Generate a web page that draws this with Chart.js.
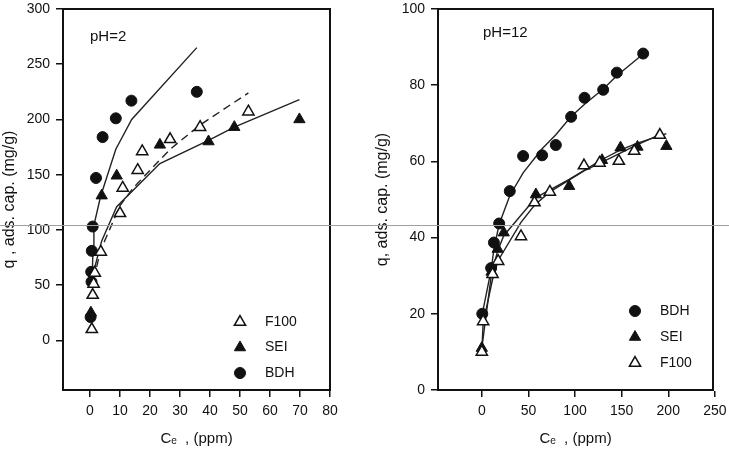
<!DOCTYPE html>
<html>
<head>
<meta charset="utf-8">
<script src="https://cdn.jsdelivr.net/npm/chart.js@4.4.0/dist/chart.umd.min.js"></script>
<style>
  html, body { margin: 0; padding: 0; background: #fff; }
  body { width: 729px; height: 460px; position: relative; overflow: hidden; }
  .panel { position: absolute; top: 0; height: 460px; }
  #left { left: 0; width: 365px; }
  #right { left: 365px; width: 364px; }
  #scanline { position: absolute; left: 0; top: 225px; width: 729px; height: 1px; background: #a0a0a0; }
</style>
</head>
<body>
<div class="panel" id="left"><canvas id="chartLeft"></canvas></div>
<div class="panel" id="right"><canvas id="chartRight"></canvas></div>
<div id="scanline"></div>
<script>
// pH = 2 measured points
const bdh2X = [0.2, 0.5, 0.4, 0.6, 0.9, 2.0, 4.2, 8.6, 13.8, 35.6];
const bdh2Y = [21, 53, 62, 81, 103, 147, 184, 201, 217, 225];
const sei2X = [0.3, 3.9, 8.9, 23.3, 39.5, 48.1, 69.8];
const sei2Y = [25, 131, 149, 177, 180, 193, 200];
const f1002X = [0.6, 0.9, 1.2, 1.6, 3.6, 10, 10.9, 15.9, 17.4, 26.7, 36.7, 52.8];
const f1002Y = [10, 41, 51, 61, 80, 115, 138, 154, 171, 182, 193, 207];

// pH = 2 fitted curves
const bdh2FitX = [0.8, 1.0, 1.3, 3.5, 8.6, 13.9, 35.6];
const bdh2FitY = [62, 84, 104, 130, 173, 200, 265];
const sei2FitX = [1.0, 3.9, 8.9, 23.3, 39.5, 48.1, 69.8];
const sei2FitY = [60, 90, 121, 160, 181, 193, 218];
const f1002FitX = [1.2, 3.6, 10, 14.4, 26.7, 36.7, 52.8];
const f1002FitY = [55, 82, 122, 138, 173, 195, 224];

// pH = 12 measured points
const bdh12X = [0.5, 10, 13, 18.6, 30, 44.3, 64.7, 79.4, 95.8, 110.2, 130.2, 144.8, 173.1];
const bdh12Y = [20, 32, 38.7, 43.7, 52.2, 61.4, 61.6, 64.3, 71.7, 76.7, 78.8, 83.3, 88.3];
const sei12X = [0, 10.4, 17, 23.5, 58, 93.7, 129, 148.8, 167, 198];
const sei12Y = [11, 31, 37, 41.3, 51.3, 53.5, 60.3, 63.6, 63.8, 64];
const f10012X = [0, 1.4, 11.5, 17.5, 42, 56.5, 73, 109.6, 126.3, 147, 163.5, 191];
const f10012Y = [10, 18, 30.4, 33.8, 40.3, 49.2, 52, 58.9, 59.6, 60.1, 62.7, 66.9];

// pH = 12 fitted curves
const bdh12FitX = [0.5, 10, 13, 18.6, 30, 44.3, 64.7, 79.4, 95.8, 110.2, 130.2, 144.8, 173.1];
const bdh12FitY = [20, 31.5, 37, 43.5, 51, 57, 63.3, 67, 71.8, 75, 79, 82.5, 88.2];
const sei12FitX = [0, 10.4, 17, 23.5, 58, 93.7, 129, 148.8, 167, 198];
const sei12FitY = [11, 30.5, 36.5, 40.5, 50.5, 55.3, 60.5, 63, 64.8, 67.3];
const f10012FitX = [0, 1.4, 11.5, 17.5, 42, 56.5, 73, 109.6, 126.3, 147, 163.5, 191];
const f10012FitY = [10, 17.5, 29, 34, 44, 48.5, 52, 57.5, 59.5, 62, 64, 67];

// tick labels
const ph2XTicks = [0, 10, 20, 30, 40, 50, 60, 70, 80];
const ph2YTicks = [0, 50, 100, 150, 200, 250, 300];
const ph12XTicks = [0, 50, 100, 150, 200, 250];
const ph12YTicks = [0, 20, 40, 60, 80, 100];

const INK = '#111';
const FONT = '"Liberation Sans", Arial, sans-serif';

function pts(xs, ys) {
  return xs.map((x, i) => ({ x: x, y: ys[i] }));
}

const markerStyles = {
  F100: { pointStyle: 'triangle', pointRadius: 6.5, backgroundColor: '#fff', borderColor: INK, borderWidth: 1.5 },
  SEI: { pointStyle: 'triangle', pointRadius: 6.5, backgroundColor: INK, borderColor: INK, borderWidth: 1 },
  BDH: { pointStyle: 'circle', pointRadius: 5.5, backgroundColor: INK, borderColor: INK, borderWidth: 1 }
};

function markers(label, xs, ys) {
  return Object.assign({ label: label, data: pts(xs, ys), showLine: false }, markerStyles[label]);
}

function fit(xs, ys, dashed) {
  return {
    label: 'fit', data: pts(xs, ys), showLine: true, pointRadius: 0,
    borderColor: '#222', borderWidth: 1.4, borderDash: dashed ? [8, 5] : [], tension: 0
  };
}

const framePlugin = {
  id: 'frame',
  beforeDatasetsDraw(chart) {
    const { ctx, chartArea: a } = chart;
    ctx.save();
    ctx.strokeStyle = INK;
    ctx.lineWidth = 2;
    ctx.strokeRect(a.left, a.top, a.right - a.left, a.bottom - a.top);
    ctx.restore();
  }
};

const notesPlugin = {
  id: 'notes',
  afterDraw(chart, args, opts) {
    const ctx = chart.ctx;
    ctx.save();
    ctx.fillStyle = INK;
    ctx.textBaseline = 'middle';
    ctx.textAlign = 'left';
    ctx.font = '15px ' + FONT;
    ctx.fillText(opts.label, opts.labelX, opts.labelY);
    ctx.font = '14px ' + FONT;
    opts.items.forEach((name, i) => {
      const st = markerStyles[name];
      const y = opts.legendY + i * opts.gap;
      ctx.fillStyle = st.backgroundColor;
      ctx.strokeStyle = st.borderColor;
      ctx.lineWidth = st.borderWidth;
      Chart.helpers.drawPoint(ctx, { pointStyle: st.pointStyle, radius: st.pointRadius, borderWidth: st.borderWidth, rotation: 0 }, opts.legendX, y);
      ctx.fillStyle = INK;
      ctx.fillText(name, opts.legendX + 25, y);
    });
    ctx.restore();
  }
};

function axes(xMin, xMax, xTicks, yMin, yMax, yTicks, yWidth, yTitle, yTitlePad) {
  const line = { drawOnChartArea: false, drawTicks: true, tickLength: 7, color: INK, lineWidth: 1.5 };
  const border = { display: true, color: INK, width: 2 };
  return {
    x: {
      type: 'linear', min: xMin, max: xMax,
      afterBuildTicks: s => { s.ticks = xTicks.map(v => ({ value: v })); },
      afterFit: s => { s.height = 58; s.paddingLeft = 0; s.paddingRight = 0; },
      grid: line, border: border,
      ticks: { color: INK, padding: 6, font: { size: 14, family: FONT } },
      title: { display: true, text: 'Cₑ  , (ppm)', color: INK, padding: 0, font: { size: 15, family: FONT } }
    },
    y: {
      type: 'linear', min: yMin, max: yMax,
      afterBuildTicks: s => { s.ticks = yTicks.map(v => ({ value: v })); },
      afterFit: s => { s.width = yWidth; s.paddingTop = 0; s.paddingBottom = 0; },
      grid: line, border: border,
      ticks: { color: INK, padding: 6, font: { size: 14, family: FONT } },
      title: { display: true, text: yTitle, color: INK, padding: { top: yTitlePad, bottom: 0 }, font: { size: 16, family: FONT } }
    }
  };
}

new Chart(document.getElementById('chartLeft'), {
  type: 'scatter',
  data: {
    datasets: [
      markers('F100', f1002X, f1002Y),
      markers('SEI', sei2X, sei2Y),
      markers('BDH', bdh2X, bdh2Y),
      fit(bdh2FitX, bdh2FitY, false),
      fit(sei2FitX, sei2FitY, false),
      fit(f1002FitX, f1002FitY, true)
    ]
  },
  options: {
    responsive: true,
    maintainAspectRatio: false,
    animation: false,
    layout: { padding: { top: 9, right: 35, bottom: 12, left: 0 } },
    scales: axes(-9, 80, ph2XTicks, -45, 300, ph2YTicks, 63, 'q , ads. cap. (mg/g)', 0),
    plugins: {
      legend: { display: false },
      tooltip: { enabled: false },
      notes: { label: 'pH=2', labelX: 90, labelY: 37, items: ['F100', 'SEI', 'BDH'], legendX: 240, legendY: 322, gap: 25.5 }
    }
  },
  plugins: [framePlugin, notesPlugin]
});

new Chart(document.getElementById('chartRight'), {
  type: 'scatter',
  data: {
    datasets: [
      markers('F100', f10012X, f10012Y),
      markers('SEI', sei12X, sei12Y),
      markers('BDH', bdh12X, bdh12Y),
      fit(bdh12FitX, bdh12FitY, false),
      fit(sei12FitX, sei12FitY, false),
      fit(f10012FitX, f10012FitY, false)
    ]
  },
  options: {
    responsive: true,
    maintainAspectRatio: false,
    animation: false,
    layout: { padding: { top: 9, right: 16, bottom: 12, left: 0 } },
    scales: axes(-47, 248, ph12XTicks, 0, 100, ph12YTicks, 73, 'q, ads. cap. (mg/g)', 8),
    plugins: {
      legend: { display: false },
      tooltip: { enabled: false },
      notes: { label: 'pH=12', labelX: 118, labelY: 33, items: ['BDH', 'SEI', 'F100'], legendX: 270, legendY: 311, gap: 26 }
    }
  },
  plugins: [framePlugin, notesPlugin]
});
</script>
</body>
</html>
